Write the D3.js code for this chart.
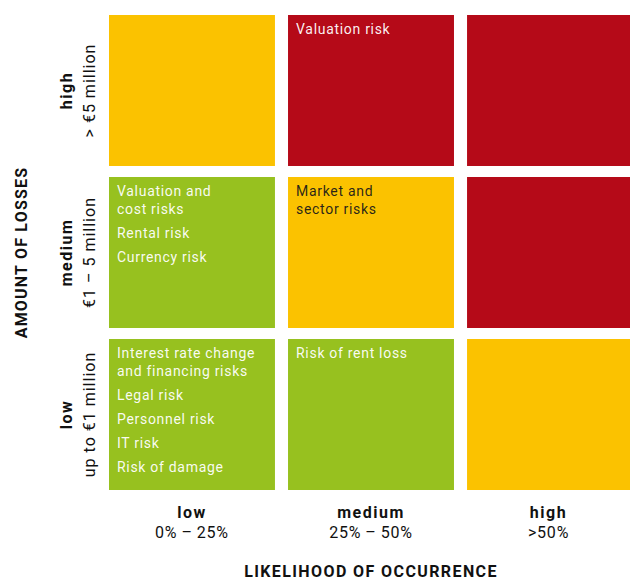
<!DOCTYPE html>
<html><head><meta charset="utf-8">
<script src="https://cdn.jsdelivr.net/npm/d3@7"></script>
<style>body{margin:0;background:#fff}svg{display:block}text{font-family:Roboto,"DejaVu Sans",sans-serif}</style>
</head><body><svg id="c" width="630" height="581"></svg>
<script>
const likelihood = ["low","medium","high"];
const likelihoodRange = ["0%\u2009\u2013\u200925%","25%\u2009\u2013\u200950%",">50%"];
const losses = ["high","medium","low"];
const lossesRange = ["> \u20ac5 million","\u20ac1 \u2013 5 million","up to \u20ac1 million"];
const levels = [
  ["medium","high","high"],
  ["low","medium","high"],
  ["low","low","medium"]
];
const risks = [
  [[],[["Valuation risk"]],[]],
  [[["Valuation and","cost risks"],["Rental risk"],["Currency risk"]],[["Market and","sector risks"]],[]],
  [[["Interest rate change","and financing risks"],["Legal risk"],["Personnel risk"],["IT risk"],["Risk of damage"]],[["Risk of rent loss"]],[]]
];
const colors = {low:"#97c11f", medium:"#fbc200", high:"#b50a18"};
const textColors = {low:"#ffffff", medium:"#1a1a1a", high:"#ffffff"};

const svg = d3.select("#c");
const x = d3.scaleBand().domain(likelihood).range([109,633]).paddingInner(0.073);
const y = d3.scaleBand().domain(losses).range([15,490]).paddingInner(0.068);

const cells = [];
losses.forEach((l,i)=>likelihood.forEach((k,j)=>cells.push({l,k,level:levels[i][j],items:risks[i][j]})));

const g = svg.selectAll("g.cell").data(cells).join("g").attr("class","cell")
  .attr("transform",d=>`translate(${x(d.k)},${y(d.l)})`);
g.append("rect").attr("width",x.bandwidth()).attr("height",y.bandwidth()).attr("fill",d=>colors[d.level]);
g.each(function(d){
  let yy = 18.5;
  const sel = d3.select(this);
  d.items.forEach(item=>{
    item.forEach((line,li)=>{
      sel.append("text").attr("x",8).attr("y",yy).attr("font-size",14)
        .attr("letter-spacing",0.7)
        .attr("fill",textColors[d.level]).attr("fill-opacity",0.95).text(line);
      yy += (li < item.length-1) ? 18 : 24;
    });
  });
});

// x axis labels
const xl = svg.append("g");
likelihood.forEach((k,i)=>{
  const cx = x(k)+x.bandwidth()/2 - (i===2?1.5:0);
  xl.append("text").attr("x",cx).attr("y",518).attr("text-anchor","middle")
    .attr("font-size",16).attr("font-weight","bold").attr("letter-spacing",1.5).attr("fill","#111").text(k);
  xl.append("text").attr("x",cx).attr("y",538).attr("text-anchor","middle")
    .attr("font-size",16).attr("letter-spacing",0.8).attr("fill","#111").text(likelihoodRange[i]);
});
svg.append("text").attr("x",371).attr("y",576.5).attr("text-anchor","middle")
  .attr("font-size",16).attr("font-weight","bold").attr("fill","#111").attr("letter-spacing",1.4)
  .text("LIKELIHOOD OF OCCURRENCE");

// y axis labels
losses.forEach((l,i)=>{
  const cy = y(l)+y.bandwidth()/2;
  svg.append("text").attr("transform",`translate(72,${cy}) rotate(-90)`).attr("text-anchor","middle")
    .attr("font-size",16).attr("font-weight","bold").attr("letter-spacing",1.5).attr("fill","#111").text(l);
  svg.append("text").attr("transform",`translate(94.5,${cy}) rotate(-90)`).attr("text-anchor","middle")
    .attr("font-size",16).attr("letter-spacing",1).attr("fill","#111").text(lossesRange[i]);
});
svg.append("text").attr("transform",`translate(27,${y("medium")+y.bandwidth()/2}) rotate(-90)`).attr("text-anchor","middle")
  .attr("font-size",16).attr("font-weight","bold").attr("fill","#111").attr("letter-spacing",1.2)
  .text("AMOUNT OF LOSSES");
</script></body></html>
